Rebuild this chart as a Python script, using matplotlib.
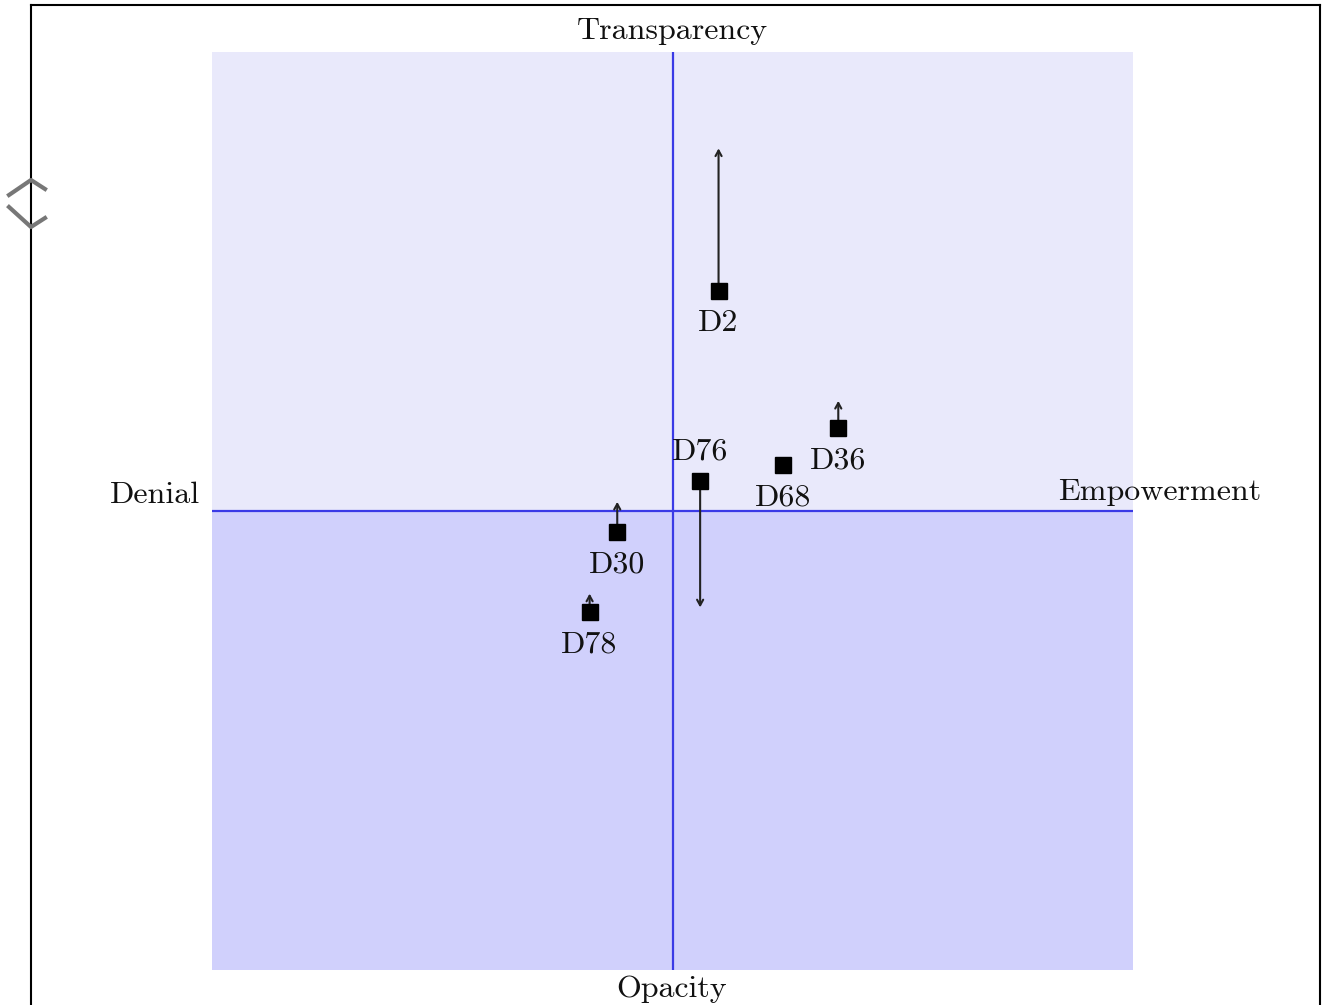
import matplotlib
matplotlib.use("Agg")
import matplotlib.pyplot as plt
from matplotlib.lines import Line2D
from matplotlib.patches import Rectangle

# ---- data ----
labels = ["D2", "D76", "D68", "D36", "D30", "D78"]
x_vals = [0.10, 0.06, 0.24, 0.36, -0.12, -0.18]
y_vals = [0.48, 0.065, 0.10, 0.18, -0.045, -0.22]
# arrow end (y) for each point, None = no arrow
arrow_to = [0.79, -0.21, None, 0.24, 0.02, -0.18]
# label placement: below or above the point
label_side = ["below", "above", "below", "below", "below", "below"]
axis_names = ["Transparency", "Opacity", "Denial", "Empowerment"]

FONT = "cmr10"
FS = 23
W, H = 1330, 1005
fig = plt.figure(figsize=(W / 100, H / 100), dpi=100)
fig.patch.set_facecolor("white")

ax = fig.add_axes([212 / W, 1 - 970 / H, (1133 - 212) / W, (970 - 52) / H])
ax.set_xlim(-1, 1)
ax.set_ylim(-1, 1)
ax.axis("off")

# quadrant backgrounds
ax.add_patch(Rectangle((-1, 0), 2, 1, facecolor="#e9e9fb", edgecolor="none", zorder=0))
ax.add_patch(Rectangle((-1, -1), 2, 1, facecolor="#d0d0fc", edgecolor="none", zorder=0))

# axes lines
ax.plot([0, 0], [-1, 1], color="#3a3ae6", lw=1.6, zorder=1)
ax.plot([-1, 1], [0, 0], color="#3a3ae6", lw=1.6, zorder=1)

# arrows
for x, y, a in zip(x_vals, y_vals, arrow_to):
    if a is not None:
        ax.annotate("", xy=(x, a), xytext=(x, y),
                    arrowprops=dict(arrowstyle="->,head_length=0.4,head_width=0.22",
                                    color="#222222", lw=1.5, shrinkA=0, shrinkB=0),
                    zorder=2)

# points
ax.plot(x_vals, y_vals, linestyle="none", marker="s", markersize=11,
        color="black", zorder=3)

# labels
for x, y, lab, side in zip(x_vals, y_vals, labels, label_side):
    off = -23.5 if side == "below" else 21.5
    ax.annotate(lab, (x, y), xytext=(0, off), textcoords="offset points",
                ha="center", va="center", fontsize=FS, family=FONT, color="#111111",
                zorder=4)

# axis names
fig.text(672 / W, 1 - 31 / H, axis_names[0], ha="center", va="center",
         fontsize=FS, family=FONT, color="#111111")
fig.text(672 / W, 1 - 989 / H, axis_names[1], ha="center", va="center",
         fontsize=FS, family=FONT, color="#111111")
fig.text(155 / W, 1 - 495 / H, axis_names[2], ha="center", va="center",
         fontsize=FS, family=FONT, color="#111111")
fig.text(1160 / W, 1 - 492 / H, axis_names[3], ha="center", va="center",
         fontsize=FS, family=FONT, color="#111111")

# page border
def fline(xs, ys, **kw):
    fig.add_artist(Line2D([v / W for v in xs], [1 - v / H for v in ys],
                          transform=fig.transFigure, **kw))

fline([31, 31], [5, 1005], color="black", lw=1.5)
fline([31, 1320], [5, 5], color="black", lw=1.5)
fline([1320, 1320], [5, 1005], color="black", lw=1.5)

# small UI chevron icon at left edge
fline([9, 31, 45], [195, 180, 189], color="#777777", lw=3)
fline([9, 31, 45], [207, 227, 218], color="#777777", lw=3)

fig.savefig("out.png", dpi=100)
